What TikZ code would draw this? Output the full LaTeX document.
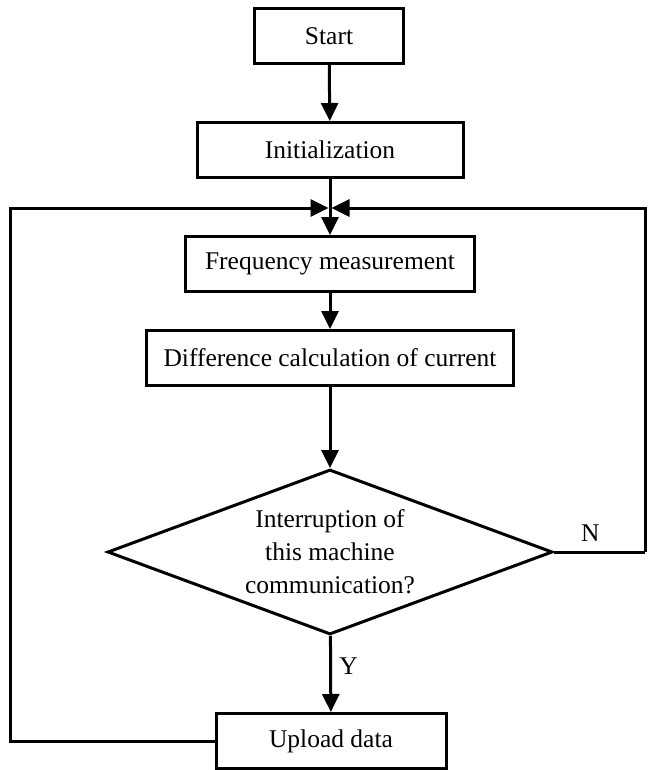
\documentclass[tikz,border=0pt]{standalone}
\usepackage{fontspec}
\setmainfont{Liberation Serif}
\usetikzlibrary{shapes.geometric,arrows.meta}

\tikzset{
  box/.style={draw, line width=3pt, rectangle, minimum height=55pt},
  decision/.style={draw, line width=3pt, diamond, inner sep=0pt, aspect=2.7,
    align=center, minimum width=445pt, minimum height=165pt},
  arr/.style={line width=3pt, -{Triangle[length=18pt,width=17pt]}},
  line/.style={line width=3pt}
}

\begin{document}
\begin{tikzpicture}[x=1pt, y=-1pt, every node/.style={font=\fontsize{25.5}{33}\selectfont}]
  \useasboundingbox (0,0) rectangle (648,770);
  % main column
  \node [box, minimum width=149pt] (start) at (329,36) {Start};
  \node [box, minimum width=266pt] (init) at (330,150) {Initialization};
  \node [box, minimum width=289pt] (freq) at (330,264) {Frequency measurement};
  \node [box, minimum width=367pt] (diff) at (330,358) {Difference calculation of current};
  \node [decision] (dec) at (330,552) {Interruption of\\this machine\\communication?};
  \node [box, minimum width=230pt] (upload) at (331,741) {Upload data};
  % loop corners
  \coordinate (join) at (330,208);
  \coordinate (lb) at (10,741);
  \coordinate (lt) at (10,208);
  \coordinate (rb) at (645,552);
  \coordinate (rt) at (645,208);
  \draw [arr] (start) -- (init);
  \draw [arr] (init) -- (freq);
  \draw [arr] (freq) -- (diff);
  \draw [arr] (diff) -- (dec);
  \draw [arr] (dec) -- node [right, pos=0.4, xshift=4pt] {Y} (upload);
  % back to the measurement step
  \draw [arr, shorten >=1.5pt] (upload.west) -- (lb) -- (lt) -- (join);
  \draw [line] (dec.east) -- node [above, pos=0.4, yshift=6pt] {N} (rb);
  \draw [arr, shorten >=1.5pt] (rb) -- (rt) -- (join);
\end{tikzpicture}
\end{document}
